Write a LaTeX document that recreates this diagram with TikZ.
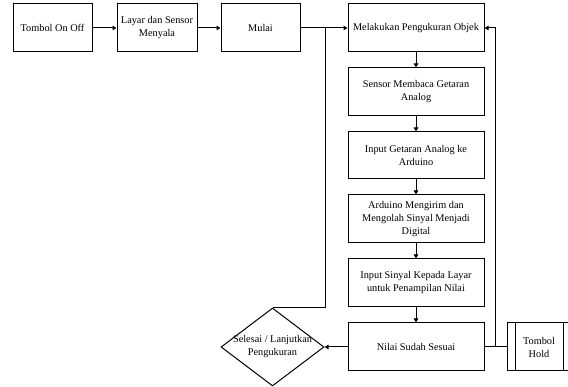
\documentclass[tikz,border=0pt]{standalone}
\usepackage{fontspec}
\setmainfont{Liberation Serif}
\usetikzlibrary{shapes.geometric,arrows.meta}
\begin{document}
\begin{tikzpicture}[x=1pt,y=-1pt,
  every node/.style={font=\fontsize{10.3}{13}\selectfont, align=center, inner sep=0pt},
  box/.style={draw, line width=1pt, minimum height=48pt},
  conn/.style={line width=1pt},
  arr/.style={conn, -{Triangle[length=4pt,width=4.5pt]}}]
\useasboundingbox (0,0) rectangle (568,387);
\node[box, minimum width=79pt] (tom) at (52.5,28) {Tombol On Off};
\node[box, minimum width=80pt] (lay) at (157,28) {Layar dan Sensor\\Menyala};
\node[box, minimum width=79pt] (mul) at (260.5,28) {Mulai};
\node[box, minimum width=136pt] (mel) at (416,28) {Melakukan Pengukuran Objek};
\node[box, minimum width=136pt] (sen) at (416,92) {Sensor Membaca Getaran\\Analog};
\node[box, minimum width=136pt, minimum height=47pt] (inp) at (416,155.5) {Input Getaran Analog ke\\Arduino};
\node[box, minimum width=136pt] (ard) at (416,219) {Arduino Mengirim dan\\Mengolah Sinyal Menjadi\\Digital};
\node[box, minimum width=136pt] (ins) at (416,283) {Input Sinyal Kepada Layar\\untuk Penampilan Nilai};
\node[box, minimum width=136pt] (nil) at (416,347) {Nilai Sudah Sesuai};
\node[draw, line width=1pt, diamond, minimum width=103pt, minimum height=78pt,
  label={[align=center]center:Selesai / Lanjutkan\\Pengukuran}] (dia) at (272.5,347) {};
\node[box, minimum width=64pt] (hold) at (539,347) {Tombol\\Hold};
\draw[conn] (515,323) -- (515,371);
\draw[conn] (563,323) -- (563,371);
\coordinate (j1) at (325,28);
\coordinate (j2) at (495,347);
\draw[arr] (tom) -- (lay);
\draw[arr] (lay) -- (mul);
\draw[arr] (mul) -- (mel);
\draw[arr] (mel) -- (sen);
\draw[arr] (sen) -- (inp);
\draw[arr] (inp) -- (ard);
\draw[arr] (ard) -- (ins);
\draw[arr] (ins) -- (nil);
\draw[arr] (nil) -- (dia);
\draw[conn] (dia.north) -| (j1);
\draw[conn] (nil) -- (hold);
\draw[arr] (j2) |- (mel.east);
\end{tikzpicture}
\end{document}
